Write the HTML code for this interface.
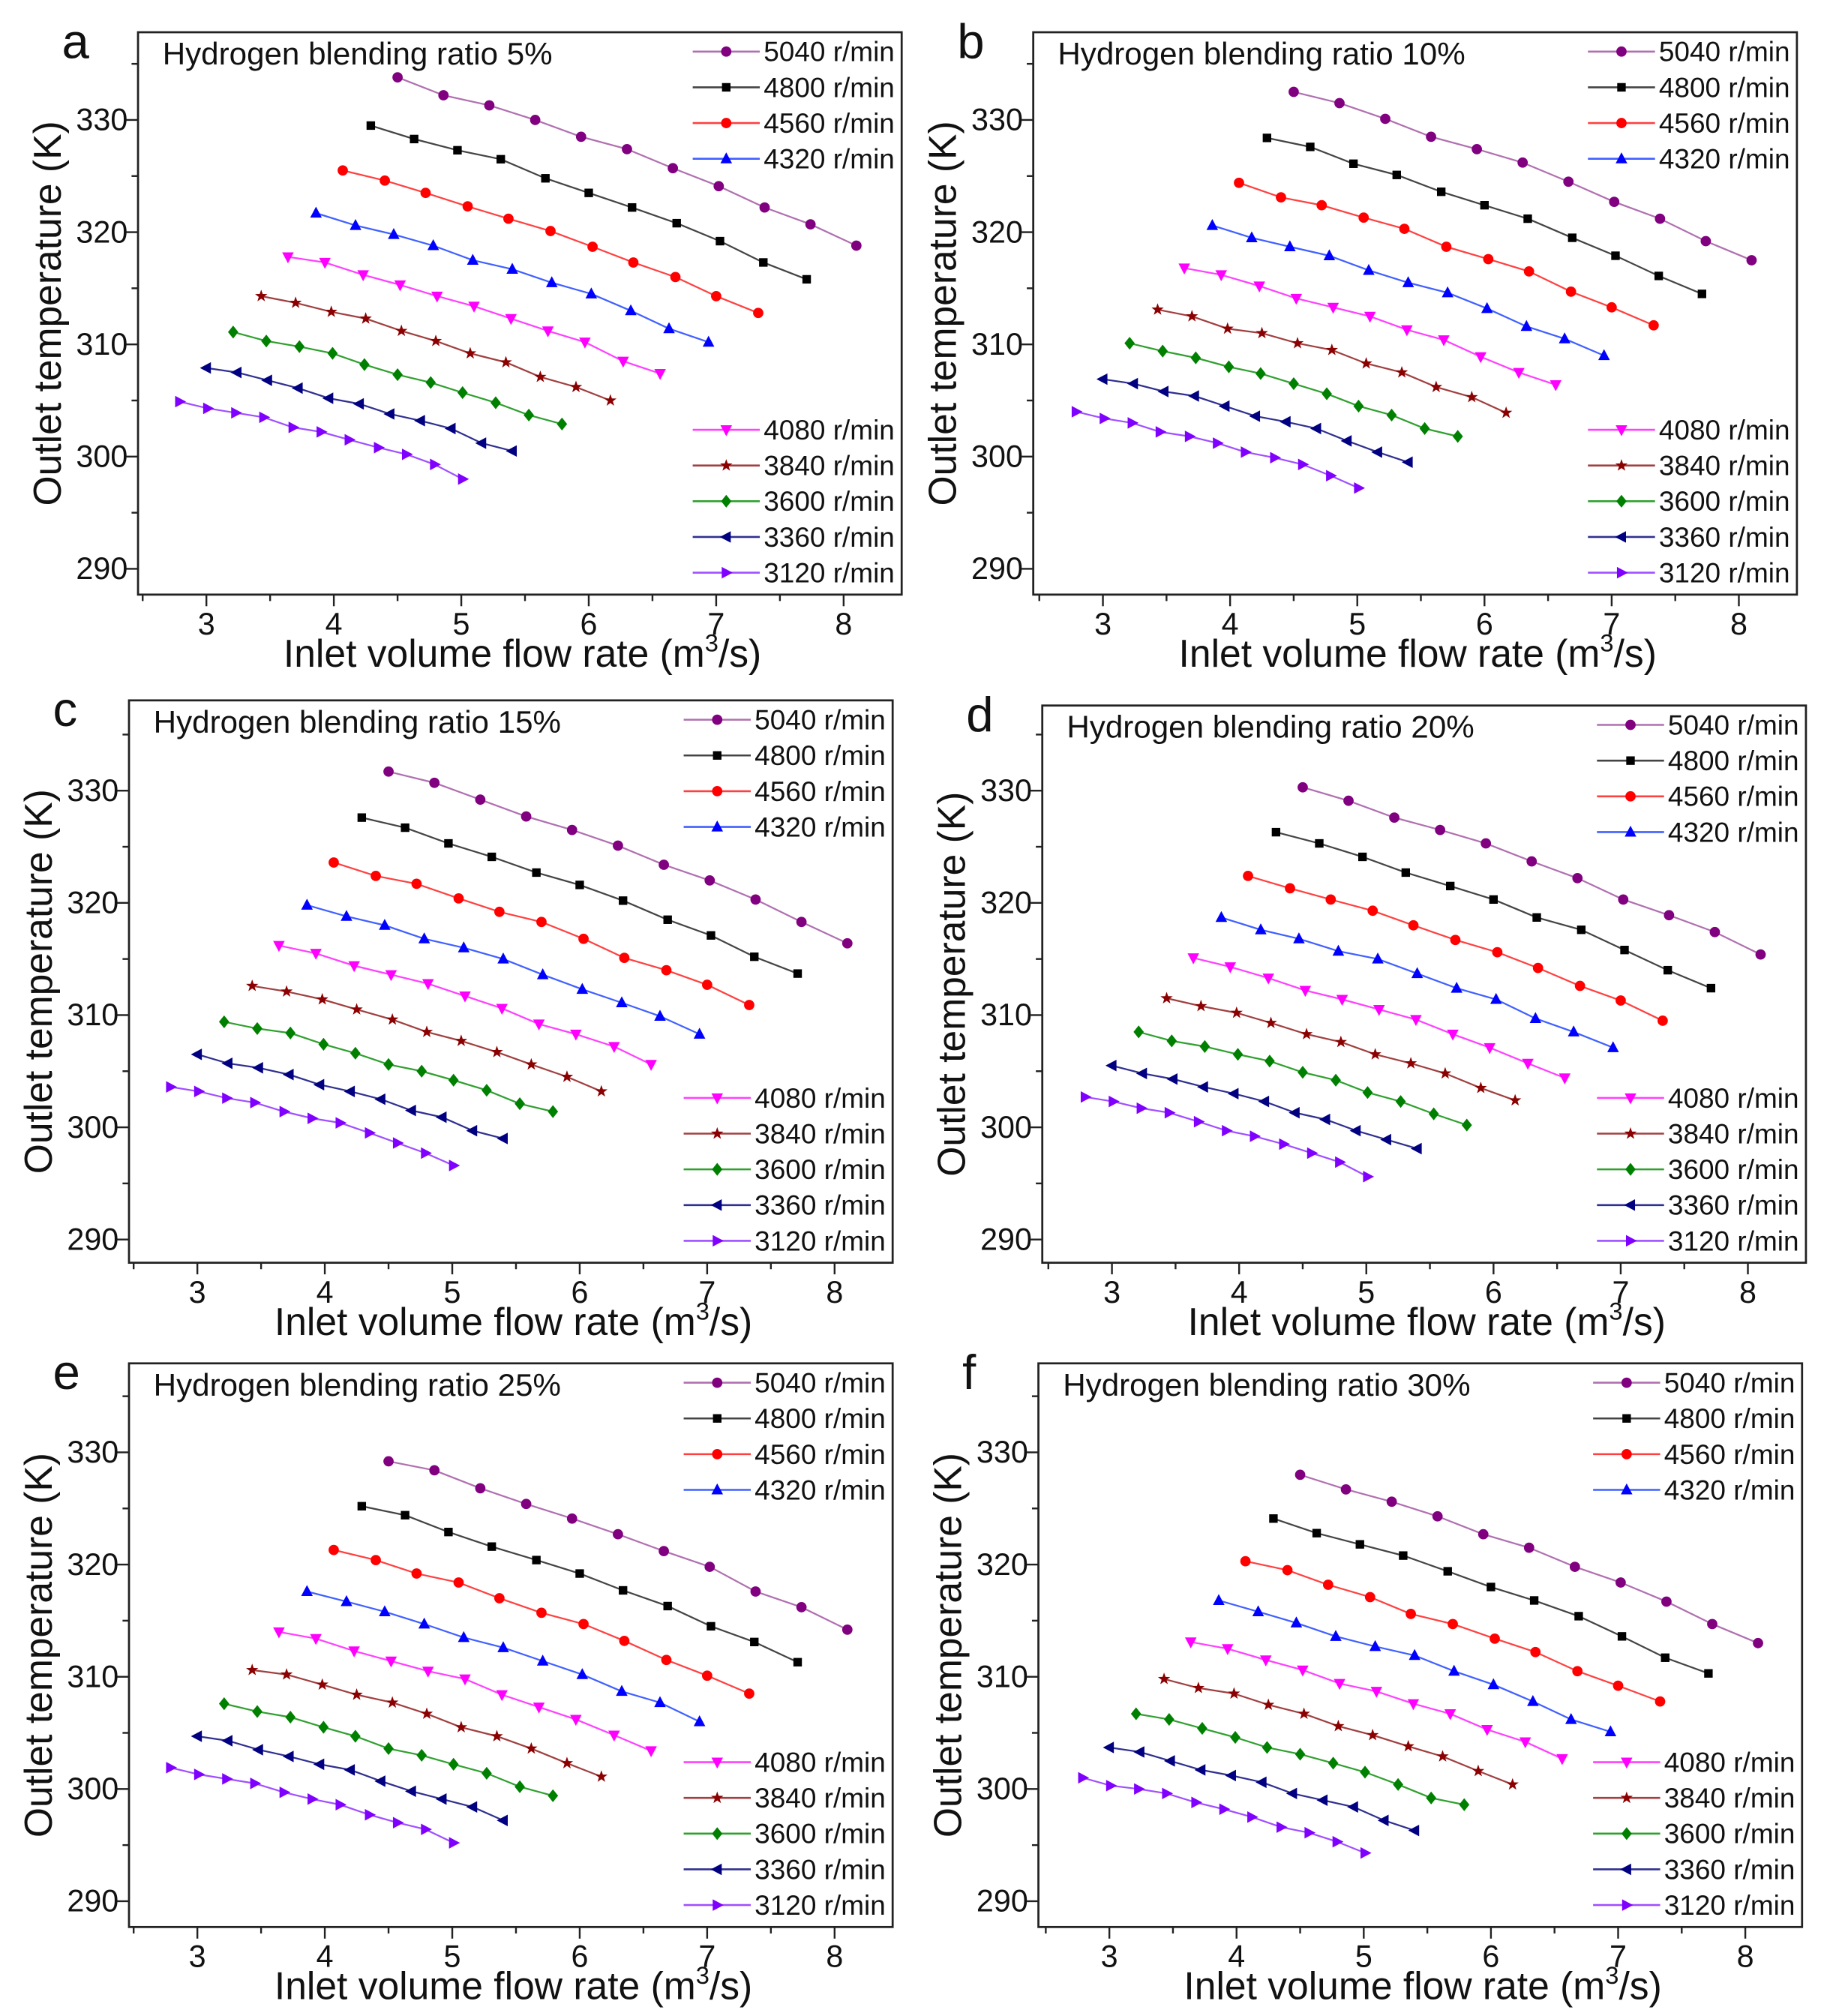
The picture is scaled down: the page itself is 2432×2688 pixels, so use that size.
<!DOCTYPE html>
<html><head><meta charset="utf-8"><style>
html,body{margin:0;padding:0;background:#fff;}
svg{display:block;font-family:"Liberation Sans",Arial,sans-serif;}
</style></head><body>
<svg id="fig" width="2432" height="2688" viewBox="0 0 1414 1563" preserveAspectRatio="none" xmlns="http://www.w3.org/2000/svg"></svg>
<script>
const speeds = [5040,4800,4560,4320,4080,3840,3600,3360,3120];
const flow5040 = [4.50,4.86,5.22,5.58,5.94,6.30,6.66,7.02,7.38,7.74,8.10];
const flow4800 = [4.29,4.63,4.97,5.31,5.66,6.00,6.34,6.69,7.03,7.37,7.71];
const flow4560 = [4.07,4.40,4.72,5.05,5.37,5.70,6.03,6.35,6.68,7.00,7.33];
const flow4320 = [3.86,4.17,4.47,4.78,5.09,5.40,5.71,6.02,6.33,6.63,6.94];
const flow4080 = [3.64,3.93,4.23,4.52,4.81,5.10,5.39,5.68,5.97,6.27,6.56];
const flow3840 = [3.43,3.70,3.98,4.25,4.53,4.80,5.07,5.35,5.62,5.90,6.17];
const flow3600 = [3.21,3.47,3.73,3.99,4.24,4.50,4.76,5.01,5.27,5.53,5.79];
const flow3360 = [3.00,3.24,3.48,3.72,3.96,4.20,4.44,4.68,4.92,5.16,5.40];
const flow3120 = [2.79,3.01,3.23,3.45,3.68,3.90,4.12,4.35,4.57,4.79,5.01];
const flows = [flow5040,flow4800,flow4560,flow4320,flow4080,flow3840,flow3600,flow3360,flow3120];

const temp5 = [
[333.8,332.2,331.3,330.0,328.5,327.4,325.7,324.1,322.2,320.7,318.8],
[329.5,328.3,327.3,326.5,324.8,323.5,322.2,320.8,319.2,317.3,315.8],
[325.5,324.6,323.5,322.3,321.2,320.1,318.7,317.3,316.0,314.3,312.8],
[321.7,320.6,319.8,318.8,317.5,316.7,315.5,314.5,313.0,311.4,310.2],
[317.8,317.3,316.2,315.3,314.3,313.4,312.3,311.2,310.2,308.5,307.4],
[314.3,313.7,312.9,312.3,311.2,310.3,309.2,308.4,307.1,306.2,305.0],
[311.1,310.3,309.8,309.2,308.2,307.3,306.6,305.7,304.8,303.7,302.9],
[307.9,307.5,306.8,306.1,305.2,304.7,303.8,303.2,302.5,301.2,300.5],
[304.9,304.3,303.9,303.5,302.6,302.2,301.5,300.8,300.2,299.3,298.0]];
const temp10 = [
[332.5,331.5,330.1,328.5,327.4,326.2,324.5,322.7,321.2,319.2,317.5],
[328.4,327.6,326.1,325.1,323.6,322.4,321.2,319.5,317.9,316.1,314.5],
[324.4,323.1,322.4,321.3,320.3,318.7,317.6,316.5,314.7,313.3,311.7],
[320.6,319.5,318.7,317.9,316.6,315.5,314.6,313.2,311.6,310.5,309.0],
[316.8,316.2,315.2,314.1,313.3,312.5,311.3,310.4,308.9,307.5,306.4],
[313.1,312.5,311.4,311.0,310.1,309.5,308.3,307.5,306.2,305.3,303.9],
[310.1,309.4,308.8,308.0,307.4,306.5,305.6,304.5,303.7,302.5,301.8],
[306.9,306.5,305.8,305.4,304.5,303.6,303.1,302.5,301.4,300.4,299.5],
[304.0,303.4,303.0,302.2,301.8,301.2,300.4,299.9,299.3,298.3,297.2]];
const temp15 = [
[331.7,330.7,329.2,327.7,326.5,325.1,323.4,322.0,320.3,318.3,316.4],
[327.6,326.7,325.3,324.1,322.7,321.6,320.2,318.5,317.1,315.2,313.7],
[323.6,322.4,321.7,320.4,319.2,318.3,316.8,315.1,314.0,312.7,310.9],
[319.8,318.8,318.0,316.8,316.0,315.0,313.6,312.3,311.1,309.9,308.3],
[316.2,315.5,314.4,313.6,312.8,311.7,310.6,309.2,308.3,307.2,305.6],
[312.6,312.1,311.4,310.5,309.6,308.5,307.7,306.7,305.6,304.5,303.2],
[309.4,308.8,308.4,307.4,306.6,305.6,305.0,304.2,303.3,302.1,301.4],
[306.5,305.7,305.3,304.7,303.8,303.2,302.5,301.5,300.9,299.7,299.0],
[303.6,303.2,302.6,302.2,301.4,300.8,300.4,299.5,298.6,297.7,296.6]];
const temp20 = [
[330.3,329.1,327.6,326.5,325.3,323.7,322.2,320.3,318.9,317.4,315.4],
[326.3,325.3,324.1,322.7,321.5,320.3,318.7,317.6,315.8,314.0,312.4],
[322.4,321.3,320.3,319.3,318.0,316.7,315.6,314.2,312.6,311.3,309.5],
[318.7,317.6,316.8,315.7,315.0,313.7,312.4,311.4,309.7,308.5,307.1],
[315.1,314.3,313.3,312.2,311.4,310.5,309.6,308.3,307.1,305.7,304.4],
[311.5,310.8,310.2,309.3,308.3,307.6,306.5,305.7,304.8,303.5,302.4],
[308.5,307.7,307.2,306.5,305.9,304.9,304.2,303.1,302.3,301.2,300.2],
[305.5,304.8,304.3,303.6,303.0,302.3,301.3,300.7,299.7,298.9,298.1],
[302.7,302.3,301.7,301.3,300.5,299.7,299.2,298.5,297.7,296.9,295.6]];
const temp25 = [
[329.2,328.4,326.8,325.4,324.1,322.7,321.2,319.8,317.6,316.2,314.2],
[325.2,324.4,322.9,321.6,320.4,319.2,317.7,316.3,314.5,313.1,311.3],
[321.3,320.4,319.2,318.4,317.0,315.7,314.7,313.2,311.5,310.1,308.5],
[317.6,316.7,315.8,314.7,313.5,312.6,311.4,310.2,308.7,307.7,306.0],
[314.0,313.4,312.3,311.4,310.5,309.8,308.4,307.3,306.2,304.8,303.4],
[310.6,310.2,309.3,308.4,307.7,306.7,305.5,304.7,303.6,302.3,301.1],
[307.6,306.9,306.4,305.5,304.7,303.6,303.0,302.2,301.4,300.2,299.4],
[304.7,304.3,303.5,302.9,302.2,301.7,300.7,299.8,299.1,298.4,297.2],
[301.9,301.3,300.9,300.5,299.7,299.1,298.6,297.7,297.0,296.4,295.2]];
const temp30 = [
[328.0,326.7,325.6,324.3,322.7,321.5,319.8,318.4,316.7,314.7,313.0],
[324.1,322.8,321.8,320.8,319.4,318.0,316.8,315.4,313.6,311.7,310.3],
[320.3,319.5,318.2,317.1,315.6,314.7,313.4,312.2,310.5,309.2,307.8],
[316.8,315.8,314.8,313.6,312.7,311.9,310.5,309.3,307.8,306.2,305.1],
[313.1,312.5,311.5,310.6,309.4,308.7,307.6,306.7,305.3,304.2,302.7],
[309.8,309.0,308.5,307.5,306.7,305.6,304.8,303.8,302.9,301.6,300.4],
[306.7,306.2,305.4,304.6,303.7,303.1,302.3,301.5,300.4,299.2,298.6],
[303.7,303.3,302.5,301.7,301.2,300.6,299.6,299.0,298.4,297.2,296.3],
[301.0,300.3,300.0,299.6,298.8,298.2,297.5,296.6,296.1,295.3,294.3]];
const xTicks = [3,4,5,6,7,8];
const yTicks = [290,300,310,320,330];
const ratioLabels = ["5%","10%","15%","20%","25%","30%"];
const panelLetters = ["a","b","c","d","e","f"];

const NS="http://www.w3.org/2000/svg";
const svg=document.getElementById('fig');
function mk(tag,attrs,parent){const e=document.createElementNS(NS,tag);for(const k in attrs)e.setAttribute(k,attrs[k]);(parent||svg).appendChild(e);return e;}
const lineCols=["#b070b0","#444444","#ff4040","#4060ff","#ff40ff","#a04040","#30a030","#303090","#a050ff"];
const markCols=["#800080","#000000","#ff0000","#0000ff","#ff00ff","#8b0000","#008000","#000080","#8000ff"];
const shapes=["circle","square","circle","tri-up","tri-down","star","diamond","tri-left","tri-right"];
const layout=[
 {bx:107,by:25,bw:592,bh:436,x3:160,x8:654,y330:93,y290:441},
 {bx:801,by:25,bw:592,bh:436,x3:855,x8:1348,y330:93,y290:441},
 {bx:100,by:543,bw:592,bh:436,x3:153,x8:647,y330:613,y290:961},
 {bx:808,by:547,bw:592,bh:432,x3:862,x8:1355,y330:613,y290:961},
 {bx:100,by:1057,bw:592,bh:437,x3:153,x8:647,y330:1126,y290:1474},
 {bx:805,by:1057,bw:592,bh:437,x3:860,x8:1353,y330:1126,y290:1474}];
const temps=[temp5,temp10,temp15,temp20,temp25,temp30];

function marker(g,shape,cx,cy,col){
  const r=4;let e;
  if(shape==="circle") e=mk('circle',{cx,cy,r:r,fill:col},g);
  else if(shape==="square") e=mk('rect',{x:cx-3.3,y:cy-3.3,width:6.6,height:6.6,fill:col},g);
  else {
    let p;
    if(shape==="tri-up") p=[[0,-5],[4.5,3.5],[-4.5,3.5]];
    else if(shape==="tri-down") p=[[0,5],[4.5,-3.5],[-4.5,-3.5]];
    else if(shape==="tri-left") p=[[-5,0],[3.5,-4.5],[3.5,4.5]];
    else if(shape==="tri-right") p=[[5,0],[-3.5,-4.5],[-3.5,4.5]];
    else if(shape==="diamond") p=[[0,-5],[4,0],[0,5],[-4,0]];
    else {p=[];for(let k=0;k<10;k++){const a=-Math.PI/2+k*Math.PI/5;const rr=k%2?2:5;p.push([rr*Math.cos(a),rr*Math.sin(a)]);}}
    e=mk('polygon',{points:p.map(q=>(cx+q[0])+','+(cy+q[1])).join(' '),fill:col},g);
  }
  return e;
}

layout.forEach((L,pi)=>{
  const g=mk('g',{});
  
  
  const sx=v=>L.x3+(v-3)*(L.x8-L.x3)/5;
  const sy=v=>L.y290-(v-290)*(L.y290-L.y330)/40;
  const bottom=L.by+L.bh, right=L.bx+L.bw;
  const box=mk('rect',{x:L.bx,y:L.by,width:L.bw,height:L.bh,fill:'none',stroke:'#222',"stroke-width":1.6},g);
  
  
  for(let v=2.5;v<=8.5001;v+=0.5){const px=sx(v);if(px<L.bx-1||px>right+1)continue;const major=Math.abs(v-Math.round(v))<0.01;
    const t=mk('line',{x1:px,y1:bottom,x2:px,y2:bottom+(major?9:5),stroke:'#222',"stroke-width":1.4},g);
    
    }
  xTicks.forEach(v=>{const t=mk('text',{x:sx(v),y:bottom+31,"font-size":24,"text-anchor":"middle",fill:'#111'},g);t.textContent=v;
    
    });
  for(let v=290;v<=336;v+=5){const py=sy(v);if(py<L.by||py>bottom)continue;const major=v%10===0;
    const t=mk('line',{x1:L.bx,y1:py,x2:L.bx-(major?9:5),y2:py,stroke:'#222',"stroke-width":1.4},g);
    
    }
  yTicks.forEach(v=>{const t=mk('text',{x:L.bx-8,y:sy(v)+8,"font-size":24,"text-anchor":"end",fill:'#111'},g);t.textContent=v;
    
    });
  const xt=mk('text',{x:L.bx+L.bw/2+2,y:bottom+56,"font-size":30,"text-anchor":"middle",fill:'#111'},g);
  
  
  xt.appendChild(document.createTextNode('Inlet volume flow rate (m'));
  const sup=mk('tspan',{"font-size":19,dy:-12},xt);sup.textContent='3';
  const rest=mk('tspan',{dy:12},xt);rest.textContent='/s)';
  const ycx=L.bx-60, ycy=L.by+L.bh/2;
  const yt=mk('text',{x:ycx,y:ycy,"font-size":30,"text-anchor":"middle",fill:'#111',transform:`rotate(-90 ${ycx} ${ycy})`},g);
  yt.textContent='Outlet temperature (K)';
  
  
  const lt=mk('text',{x:L.bx-59,y:L.by+20,"font-size":38,fill:'#111'},g);lt.textContent=panelLetters[pi];
  
  
  const tt=mk('text',{x:L.bx+19,y:L.by+25,"font-size":24.5,fill:'#111'},g);tt.textContent='Hydrogen blending ratio '+ratioLabels[pi];
  
  
  temps[pi].forEach((ser,si)=>{
    const sg=mk('g',{},g);
    
    
    const pts=ser.map((t,i)=>sx(flows[si][i])+','+sy(t)).join(' ');
    mk('polyline',{points:pts,fill:'none',stroke:lineCols[si],"stroke-width":1.3},sg);
    ser.forEach((t,i)=>{const m=marker(sg,shapes[si],sx(flows[si][i]),sy(t),markCols[si]);
      
      });
  });
  speeds.forEach((s,si)=>{
    const ly= si<4 ? L.by+15+si*27.7 : bottom-17-(8-si)*27.7;
    const lg=mk('g',{},g);
    
    
    mk('line',{x1:right-162,y1:ly,x2:right-110,y2:ly,stroke:lineCols[si],"stroke-width":1.5},lg);
    marker(lg,shapes[si],right-136,ly,markCols[si]);
    const tx=mk('text',{x:right-107,y:ly+7.5,"font-size":21.5,fill:'#111'},lg);tx.textContent=s+' r/min';
  });
});
</script>
</body></html>
